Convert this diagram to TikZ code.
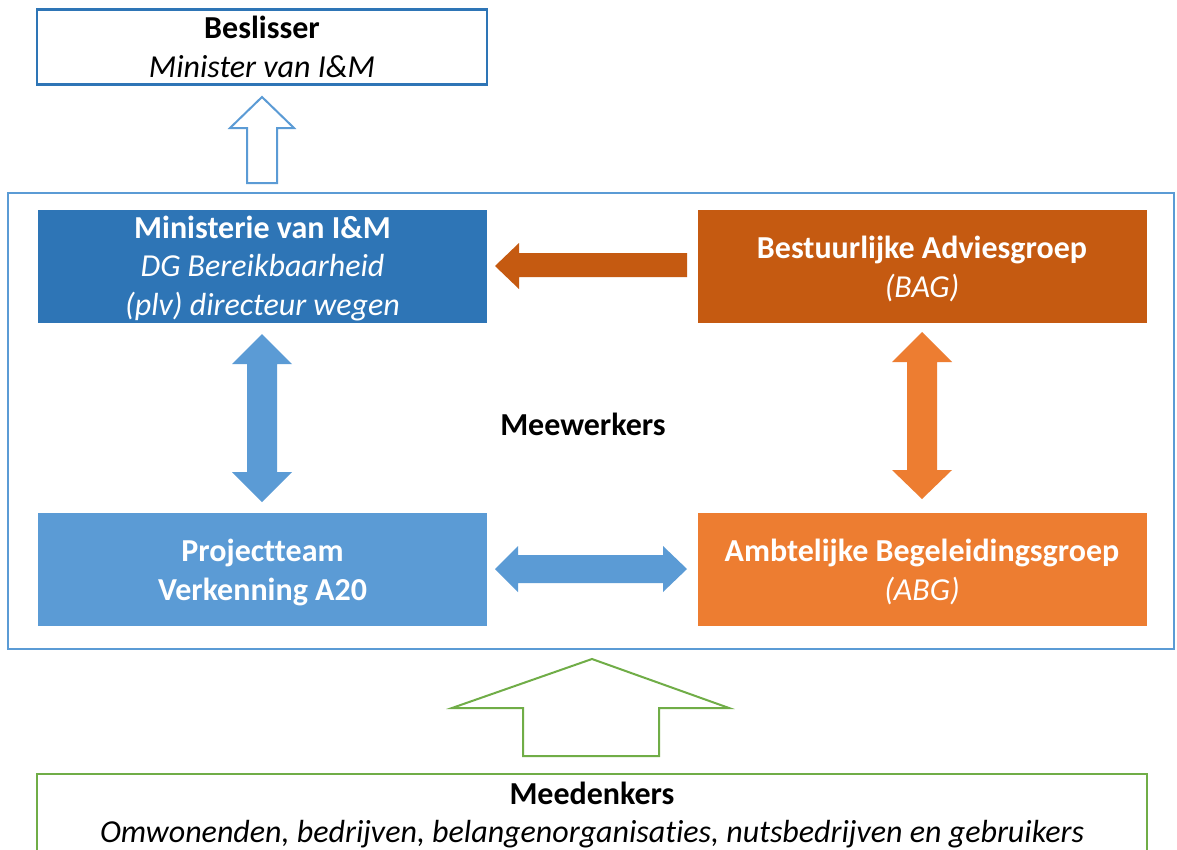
\documentclass[tikz,border=0pt]{standalone}
\usepackage{fontspec}
\setmainfont{Carlito}[Ligatures=NoCommon]
\definecolor{dblue}{HTML}{2E75B6}
\definecolor{lblue}{HTML}{5B9BD5}
\definecolor{dorange}{HTML}{C55A11}
\definecolor{lorange}{HTML}{ED7D31}
\definecolor{lgreen}{HTML}{70AD47}
\tikzset{
  txt/.style={font=\fontsize{32}{38.5}\selectfont, align=center, inner sep=0pt},
  wtxt/.style={txt, text=white},
  fbox/.style={rectangle, inner sep=0pt, outer sep=0pt, minimum width=449pt, minimum height=113pt},
}
\begin{document}
\begin{tikzpicture}[x=1pt,y=-1pt]
\useasboundingbox (0,0) rectangle (1177,849);
\fill[white] (0,0) rectangle (1177,849);
% top box
\node[draw=dblue, line width=2.2pt, rectangle, inner sep=0pt, minimum width=450pt, minimum height=75pt, txt] (beslisser) at (262,47) {\textbf{Beslisser}\\\textit{Minister van I\&M}};
% outer box
\node[draw=lblue, line width=2.5pt, rectangle, inner sep=0pt, minimum width=1166pt, minimum height=456pt] (outer) at (591,421) {};
% coloured boxes
\node[fbox, fill=dblue] (min) at (262.5,266) {};
\node[fbox, fill=dorange] (bag) at (922,266.5) {};
\node[fbox, fill=lblue] (pt) at (262.5,569.5) {};
\node[fbox, fill=lorange] (abg) at (922,569.5) {};
\node[wtxt] (mintxt) at (262.5,268.5) {\textbf{Ministerie van I\&M}\\\textit{DG Bereikbaarheid}\\\textit{(plv) directeur wegen}};
\node[wtxt] (bagtxt) at (922,269) {\textbf{Bestuurlijke Adviesgroep}\\\textit{(BAG)}};
\node[wtxt] (pttxt) at (262.5,572.5) {\textbf{Projectteam}\\\textbf{Verkenning A20}};
\node[wtxt] (abgtxt) at (922,572) {\textbf{Ambtelijke Begeleidingsgroep}\\\textit{(ABG)}};
\node[txt] (mee) at (583,424) {\textbf{Meewerkers}};
% bottom box
\node[draw=lgreen, line width=2pt, rectangle, inner sep=0pt, minimum width=1110pt, minimum height=130pt, anchor=north] (bottom) at (592,773) {};
\node[txt] (meed) at (592,815) {\textbf{Meedenkers}\\\textit{Omwonenden, bedrijven, belangenorganisaties, nutsbedrijven en gebruikers}};
% hollow up arrow (blue)
\draw[lblue, line width=2pt, line join=miter] (247,183) -- (247,128) -- (230,128) -- (262,97) -- (294,128) -- (277,128) -- (277,183) -- cycle;
% orange left arrow
\fill[dorange] (687,253) -- (519,253) -- (519,243) -- (495,266) -- (519,289) -- (519,277) -- (687,277) -- cycle;
% blue vertical double arrow
\fill[lblue] (262,334) -- (292,364) -- (277,364) -- (277,472) -- (292,472) -- (262,502) -- (232,472) -- (247,472) -- (247,364) -- (232,364) -- cycle;
% orange vertical double arrow
\fill[lorange] (922,332) -- (952,362) -- (937,362) -- (937,470) -- (952,470) -- (922,499) -- (892,470) -- (907,470) -- (907,362) -- (892,362) -- cycle;
% blue horizontal double arrow
\fill[lblue] (495,569) -- (518,546) -- (518,555) -- (663,555) -- (663,546) -- (687,569) -- (663,592) -- (663,583) -- (518,583) -- (518,592) -- cycle;
% green hollow up arrow
\draw[lgreen, line width=2pt, line join=miter] (523,756) -- (523,708) -- (452,708) -- (592,659) -- (729,708) -- (659,708) -- (659,756) -- cycle;
\end{tikzpicture}
\end{document}
